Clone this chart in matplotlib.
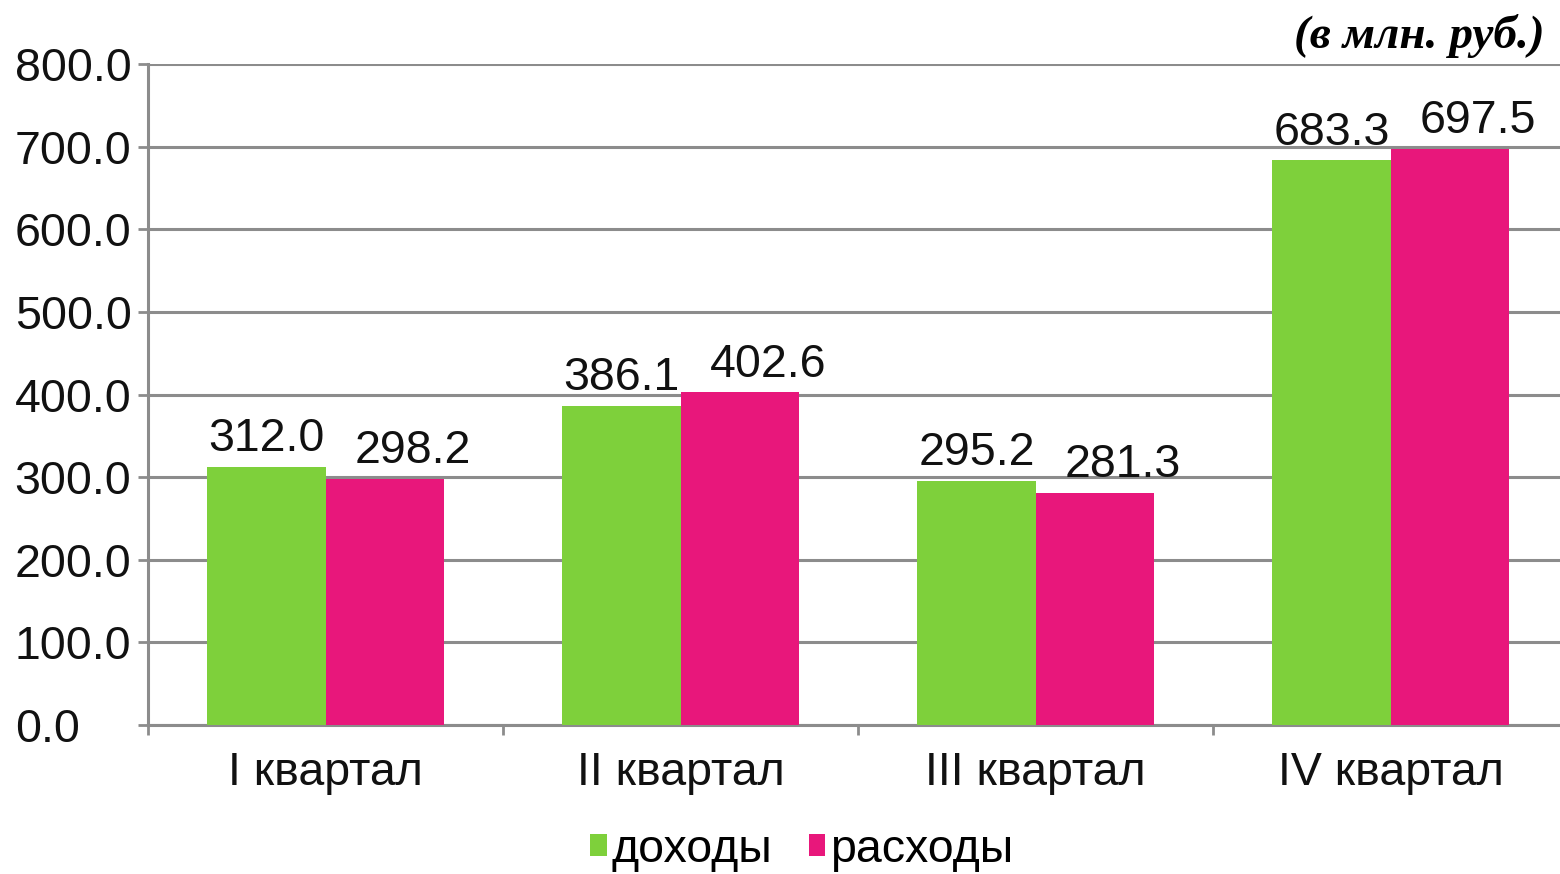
import matplotlib.pyplot as plt
import numpy as np

# data
quarters = ['I квартал', 'II квартал', 'III квартал', 'IV квартал']
income = [312.0, 386.1, 295.2, 683.3]
expense = [298.2, 402.6, 281.3, 697.5]
yticks = [0, 100, 200, 300, 400, 500, 600, 700, 800]

green = '#7ED03B'
pink = '#E8177B'
grey = '#8C8C8C'
txt = '#111111'

plt.rcParams['font.family'] = ['Liberation Sans', 'DejaVu Sans']

fig = plt.figure(figsize=(15.6, 8.74), dpi=100)
ax = fig.add_axes([148 / 1560, 149 / 874, 1412 / 1560, 661 / 874])

x = np.arange(len(quarters))
w = 0.333
b1 = ax.bar(x - w / 2, income, w, color=green, label='доходы', zorder=3)
b2 = ax.bar(x + w / 2, expense, w, color=pink, label='расходы', zorder=3)

# labels of the second series sit a bit to the right, as in the original
for bars, vals, shift in ((b1, income, 0.0), (b2, expense, 0.08)):
    for bar, v in zip(bars, vals):
        ax.text(bar.get_x() + bar.get_width() / 2 + shift, v + 7, f'{v:.1f}',
                ha='center', va='bottom', fontsize=33.5, color=txt, zorder=4)

ax.set_ylim(0, 800)
ax.set_xlim(-0.5, 3.5 - 8 / 355)
ax.set_yticks(yticks)
ax.set_yticklabels([f'{t:.1f}' for t in yticks], fontsize=33.5, color=txt)
for lab in ax.get_yticklabels():
    lab.set_horizontalalignment('left')
ax.yaxis.grid(True, color=grey, linewidth=2.2, zorder=1)

ax.set_xticks(x)
ax.set_xticklabels(quarters, fontsize=33.5, color=txt)
ax.set_xticks([-0.5, 0.5, 1.5, 2.5], minor=True)
ax.tick_params(axis='x', which='major', length=0, pad=19)
ax.tick_params(axis='x', which='minor', length=7, width=2, color=grey)
ax.tick_params(axis='y', length=7, width=2, color=grey, pad=89)

for s in ['top', 'right']:
    ax.spines[s].set_visible(False)
for s in ['left', 'bottom']:
    ax.spines[s].set_color(grey)
    ax.spines[s].set_linewidth(2.2)

fig.text(1545 / 1560, 1 - 36 / 874, '(в млн. руб.)', ha='right', va='center',
         fontsize=34, fontweight='bold', fontstyle='italic', color='black',
         family=['Liberation Serif', 'DejaVu Serif'])

fig.legend(handles=[b1, b2], loc='center', bbox_to_anchor=(0.514, 1 - 850 / 874),
           ncol=2, frameon=False, fontsize=33.5, handlelength=0.35, handleheight=0.35,
           handletextpad=0.1, columnspacing=0.8)

plt.savefig('out.png', dpi=100)
